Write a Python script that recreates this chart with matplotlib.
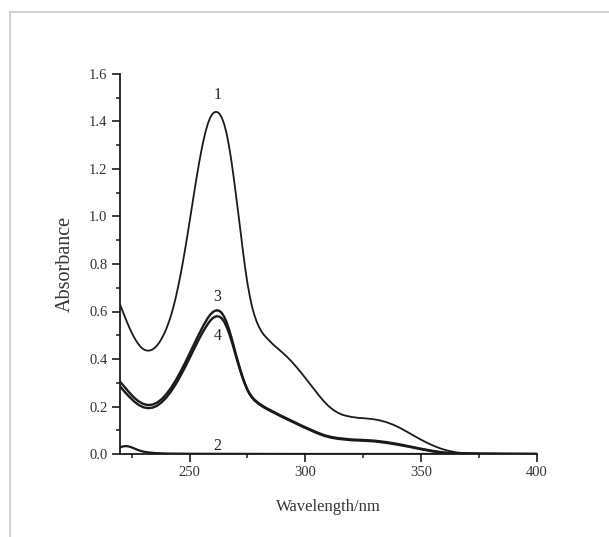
import matplotlib
matplotlib.use("Agg")
import matplotlib.pyplot as plt
from matplotlib.lines import Line2D
from matplotlib.ticker import MultipleLocator

# UV-vis spectra
wl_1 = [220, 221, 222, 223, 224, 225, 226, 227, 228, 229, 230, 231, 232, 233, 234, 235,
        236, 237, 238, 239, 240, 241, 242, 243, 244, 245, 246, 247, 248, 249, 250, 251,
        252, 253, 254, 255, 256, 257, 258, 259, 260, 261, 262, 263, 264, 265, 266, 267,
        268, 269, 270, 271, 272, 273, 274, 275, 276, 277, 278, 279, 280, 281, 282, 283,
        284, 285, 286, 288, 290, 292, 294, 296, 298, 300, 302, 304, 306, 308, 310, 312,
        314, 316, 318, 320, 323, 326, 329, 332, 335, 338, 341, 344, 347, 350, 353, 356,
        359, 362, 365, 368, 372, 380, 390, 400]
abs_1 = [0.630, 0.605, 0.580, 0.556, 0.533, 0.512, 0.493, 0.476, 0.462, 0.450, 0.442, 0.437,
         0.435, 0.436, 0.440, 0.447, 0.457, 0.470, 0.486, 0.505, 0.527, 0.553, 0.583, 0.617,
         0.656, 0.700, 0.748, 0.800, 0.856, 0.915, 0.976, 1.038, 1.100, 1.160, 1.218, 1.271,
         1.319, 1.360, 1.393, 1.418, 1.433, 1.440, 1.440, 1.432, 1.415, 1.388, 1.350, 1.300,
         1.240, 1.170, 1.095, 1.018, 0.940, 0.860, 0.785, 0.720, 0.665, 0.620, 0.585, 0.557,
         0.535, 0.517, 0.503, 0.492, 0.482, 0.472, 0.462, 0.445, 0.428, 0.410, 0.390, 0.368,
         0.345, 0.320, 0.295, 0.270, 0.245, 0.222, 0.202, 0.186, 0.174, 0.165, 0.160, 0.156,
         0.152, 0.150, 0.147, 0.142, 0.134, 0.123, 0.109, 0.093, 0.076, 0.060, 0.045, 0.032,
         0.021, 0.013, 0.007, 0.004, 0.002, 0.001, 0.0, 0.0]

wl_2 = [220, 221, 222, 223, 224, 225, 226, 227, 228, 229, 230, 232, 235, 240, 250, 300, 400]
abs_2 = [0.028, 0.031, 0.033, 0.033, 0.031, 0.028, 0.024, 0.020, 0.016, 0.013, 0.010,
         0.007, 0.004, 0.002, 0.001, 0.0, 0.0]

wl_34 = [220, 222, 224, 226, 228, 230, 232, 234, 236, 238, 240, 242, 244, 246, 248, 250,
         252, 254, 256, 258, 259, 260, 261, 262, 263, 264, 265, 266, 267, 268, 269, 270,
         271, 272, 273, 274, 275, 276, 277, 278, 280, 282, 284, 286, 288, 290, 293, 296,
         299, 302, 305, 308, 311, 314, 317, 320, 325, 330, 335, 340, 345, 350, 355, 360,
         365, 375, 400]
abs_3 = [0.305, 0.282, 0.259, 0.238, 0.222, 0.211, 0.206, 0.208, 0.216, 0.231, 0.252, 0.278,
         0.309, 0.344, 0.382, 0.422, 0.463, 0.503, 0.541, 0.574, 0.587, 0.597, 0.603, 0.605,
         0.602, 0.593, 0.577, 0.555, 0.527, 0.494, 0.458, 0.421, 0.386, 0.353, 0.322, 0.295,
         0.272, 0.254, 0.240, 0.229, 0.213, 0.200, 0.189, 0.179, 0.169, 0.159, 0.145, 0.131,
         0.117, 0.104, 0.091, 0.080, 0.072, 0.067, 0.064, 0.061, 0.059, 0.056, 0.050, 0.042,
         0.032, 0.022, 0.013, 0.006, 0.003, 0.001, 0.0]
abs_4 = [0.285, 0.262, 0.241, 0.222, 0.207, 0.197, 0.193, 0.195, 0.203, 0.218, 0.238, 0.263,
         0.293, 0.327, 0.364, 0.403, 0.443, 0.482, 0.518, 0.549, 0.562, 0.572, 0.578, 0.580,
         0.578, 0.570, 0.556, 0.536, 0.511, 0.481, 0.448, 0.413, 0.380, 0.348, 0.318, 0.292,
         0.269, 0.251, 0.237, 0.226, 0.210, 0.197, 0.186, 0.176, 0.166, 0.156, 0.142, 0.128,
         0.114, 0.101, 0.088, 0.077, 0.069, 0.064, 0.061, 0.058, 0.056, 0.053, 0.047, 0.039,
         0.030, 0.020, 0.011, 0.005, 0.002, 0.001, 0.0]

labels = ["1", "2", "3", "4"]
label_pos = [(262, 1.51), (262, 0.035), (262, 0.66), (262, 0.495)]

plt.rcParams["font.family"] = ["Liberation Serif", "DejaVu Serif"]

fig = plt.figure(figsize=(6.09, 5.37), dpi=100)
ax = fig.add_axes([120 / 609, 1 - 454 / 537, 417 / 609, 380 / 537])

ink = "#1a1a1a"
ax.plot(wl_1, abs_1, color=ink, lw=1.3)
ax.plot(wl_2, abs_2, color=ink, lw=1.6)
ax.plot(wl_34, abs_3, color=ink, lw=1.7)
ax.plot(wl_34, abs_4, color=ink, lw=1.7)

for lab, (x, y) in zip(labels, label_pos):
    ax.text(x, y, lab, ha="center", va="center", fontsize=11.5, color="#222222")

ax.set_xlim(220, 400)
ax.set_ylim(0, 1.6)
ax.xaxis.set_major_locator(MultipleLocator(50))
ax.xaxis.set_minor_locator(MultipleLocator(25))
ax.yaxis.set_major_locator(MultipleLocator(0.2))
ax.yaxis.set_minor_locator(MultipleLocator(0.1))
ax.yaxis.set_major_formatter(plt.FuncFormatter(lambda v, p: f"{v:.1f}"))

for s in ["top", "right"]:
    ax.spines[s].set_visible(False)
for s in ["left", "bottom"]:
    ax.spines[s].set_linewidth(1.3)
    ax.spines[s].set_color(ink)

ax.tick_params(which="major", direction="out", length=6, width=1.2, color=ink,
               labelsize=10.5, labelcolor="#333333", pad=3)
ax.tick_params(which="minor", direction="out", length=3, width=1.1, color=ink)

ax.set_xlabel("Wavelength/nm", fontsize=12, color="#333333", labelpad=14)
ax.set_ylabel("Absorbance", fontsize=14.5, color="#333333", labelpad=10)

# light frame of the original screenshot
fig.add_artist(Line2D([10 / 609, 1], [1 - 12 / 537, 1 - 12 / 537], color="#c8c8c8", lw=1.2))
fig.add_artist(Line2D([10 / 609, 10 / 609], [0, 1 - 12 / 537], color="#c8c8c8", lw=1.2))

fig.savefig("out.png", dpi=100)
